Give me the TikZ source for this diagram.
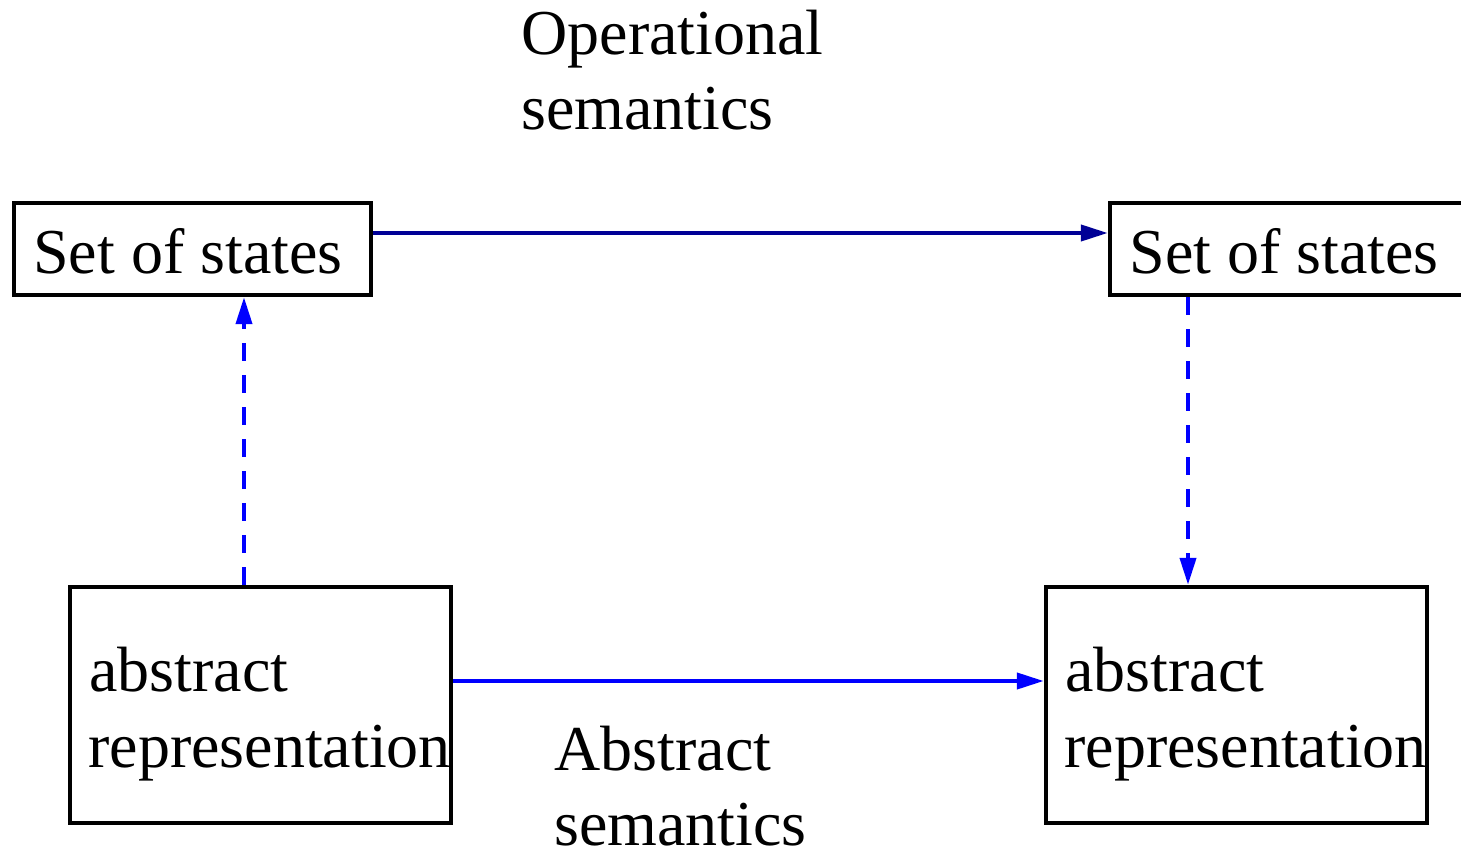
\documentclass[tikz,border=0pt]{standalone}
\usepackage{fontspec}
\setmainfont{Liberation Serif}
\usetikzlibrary{arrows.meta}
\definecolor{navy}{RGB}{0,0,150}
\begin{document}
\begin{tikzpicture}[x=0.5pt,y=-0.5pt,
  box/.style={draw=black,line width=2.2pt,inner sep=0pt},
  lbl/.style={anchor=base west,inner sep=0pt,font=\fontsize{32}{38}\selectfont},
  conn/.style={line width=2pt,-{Triangle[length=13.5pt,width=8pt]}},
  dconn/.style={conn,dash pattern=on 9pt off 7pt}]
\useasboundingbox (0,0) rectangle (1461,850);
% boxes
\node[box,minimum width=178.5pt,minimum height=46pt] (tl) at (192.5,249) {};
\node[box,minimum width=180pt,minimum height=46pt] (tr) at (1290,249) {};
\node[box,minimum width=190.5pt,minimum height=118pt] (bl) at (260.5,705) {};
\node[box,minimum width=190.5pt,minimum height=118pt] (br) at (1236.5,705) {};
% texts
\node[lbl] (tlt) at (33,273) {Set of states};
\node[lbl] (trt) at (1129,273) {Set of states};
\node[lbl] (bla) at (89,691) {abstract};
\node[lbl] (blb) at (88,767) {representation};
\node[lbl] (bra) at (1065,691) {abstract};
\node[lbl] (brb) at (1064,767) {representation};
\node[lbl] (opa) at (521,55) {Operational};
\node[lbl] (opb) at (521,130) {semantics};
\node[lbl] (aba) at (554,770) {Abstract};
\node[lbl] (abb) at (554,845) {semantics};
% connectors
\draw[conn,navy] ([yshift=8pt]tl.east) -- ([yshift=8pt]tr.west);
\draw[conn,blue] ([yshift=12pt]bl.east) -- ([yshift=12pt]br.west);
\draw[dconn,blue] ([xshift=-8.25pt]bl.north) -- ([xshift=25.75pt]tl.south);
\draw[dconn,blue] ([xshift=-51pt]tr.south) -- ([xshift=-24.25pt]br.north);
\end{tikzpicture}
\end{document}
